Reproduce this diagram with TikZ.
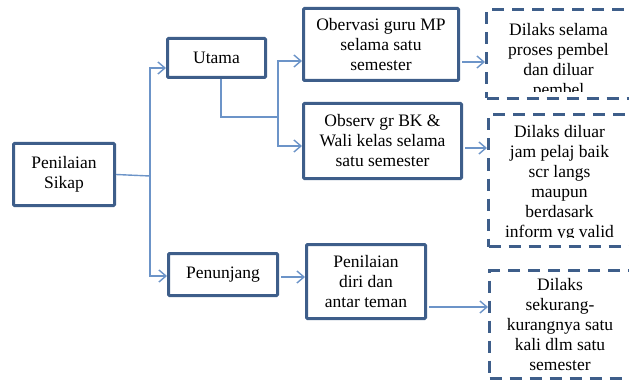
\documentclass[tikz,border=0pt]{standalone}
\usepackage{fontspec}
\setmainfont{Liberation Serif}
\usetikzlibrary{arrows.meta,positioning}
\definecolor{boxblue}{RGB}{62,94,138}
\definecolor{linkblue}{RGB}{108,148,200}
\begin{document}
\begin{tikzpicture}[x=1pt,y=-1pt,
    font=\rmfamily\fontsize{17.5}{20}\selectfont,
    box/.style={draw=boxblue, line width=3pt, rounded corners=1pt, align=center, inner sep=1pt},
    dashbox/.style={draw=boxblue, line width=3pt, dash pattern=on 12pt off 8pt, align=center, inner sep=0pt},
    txt/.style={align=center, inner sep=0pt},
    conn/.style={draw=linkblue, line width=1.4pt},
    arr/.style={conn, -{Straight Barb[length=7pt,width=12pt,line width=1.4pt]}}]
    \clip (0,0) rectangle (629,385);

    \node[box, minimum width=101, minimum height=62] at (64,174.5)(sikap){Penilaian\\Sikap};
    \node[box, minimum width=98, minimum height=39] at (216.5,58)(utama){Utama};
    \node[box, minimum width=109, minimum height=42] at (223,274.5)(penunjang){Penunjang};
    \node[box, minimum width=155, minimum height=72] at (381,44.5)(obs1){Obervasi guru MP\\selama satu\\semester};
    \node[box, minimum width=158, minimum height=75] at (382.5,141)(obs2){Observ gr BK \&\\Wali kelas selama\\satu semester};
    \node[box, minimum width=119, minimum height=74] at (366,281.5)(diri){Penilaian\\diri dan\\antar teman};

    \node[dashbox, minimum width=144, minimum height=89] at (558.5,54)(dil1){};
    \node[dashbox, minimum width=142, minimum height=132] at (559.5,180.5)(dil2){};
    \node[dashbox, minimum width=141, minimum height=108] at (560,324.5)(dil3){Dilaks\\sekurang-\\kurangnya satu\\kali dlm satu\\semester};
    \begin{scope}
        \clip (487,10) rectangle (632,92);
        \node[txt] at (558.5,61) {Dilaks selama\\proses pembel\\dan diluar\\pembel};
    \end{scope}
    \begin{scope}
        \clip (489,115) rectangle (632,237);
        \node[txt] at (559.5,183) {Dilaks diluar\\jam pelaj baik\\scr langs\\maupun\\berdasark\\inform yg valid};
    \end{scope}

    \coordinate (fork1) at (150,176);
    \coordinate (fork2) at (278,117);
    \draw[conn] (sikap.east) -- (fork1);
    \draw[arr] (fork1) |- (utama.west |- 0,68);
    \draw[arr] (fork1) |- (penunjang.west |- 0,276);
    \draw[conn] (utama.south -| 221,0) |- (fork2);
    \draw[arr] (fork2) |- (obs1.west |- 0,61);
    \draw[arr] (fork2) |- (obs2.west |- 0,146);
    \draw[arr, shorten <=2pt] (penunjang.east |- 0,277) -- (diri.west |- 0,277);
    \draw[arr, shorten <=2pt] (obs1.east |- 0,62) -- (dil1.west |- 0,62);
    \draw[arr, shorten <=2pt] (obs2.east |- 0,148) -- (dil2.west |- 0,148);
    \draw[arr, shorten <=2pt] (diri.east |- 0,307) -- (dil3.west |- 0,307);
\end{tikzpicture}
\end{document}
